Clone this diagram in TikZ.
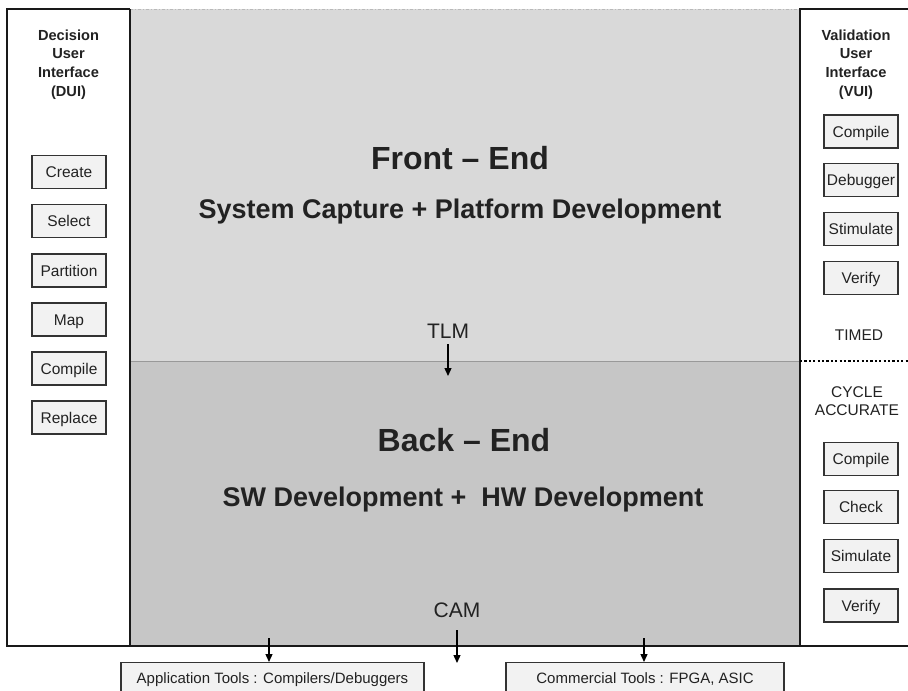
\documentclass[tikz,border=0pt]{standalone}
\usepackage{fontspec}
\setmainfont{Liberation Sans}
\usetikzlibrary{arrows.meta}

\definecolor{frontgray}{HTML}{D9D9D9}
\definecolor{backgray}{HTML}{C6C6C6}
\definecolor{btnfill}{HTML}{F2F2F2}
\definecolor{txt}{HTML}{222222}

\tikzset{
  frame/.style={draw=black!90, line width=1.3pt},
  btn/.style={draw=black!80, fill=btnfill, line width=1.2pt, minimum width=74pt,
    minimum height=33pt, inner sep=0pt, text height=12.6pt, text depth=1.4pt,
    text=txt, font=\fontsize{15.5}{18}\selectfont},
  toolbox/.style={draw=black!80, fill=btnfill, line width=1.2pt, minimum height=31pt,
    inner sep=0pt, text height=12.4pt, text depth=1.6pt, anchor=north,
    text=txt, font=\fontsize{15}{18}\selectfont},
  paneltitle/.style={align=center, inner sep=0pt, anchor=north, text=txt,
    font=\bfseries\fontsize{14.6}{18.7}\selectfont},
  sidelabel/.style={align=center, inner sep=0pt, text=txt,
    font=\fontsize{15.5}{18}\selectfont},
  bigtitle/.style={inner sep=0pt, anchor=base, text=txt,
    font=\bfseries\fontsize{32}{38}\selectfont},
  subtitle/.style={inner sep=0pt, anchor=base, text=txt,
    font=\bfseries\fontsize{27}{32}\selectfont},
  levellabel/.style={inner sep=0pt, anchor=base, text=txt,
    font=\fontsize{21}{25}\selectfont},
  arr/.style={-{Triangle[length=8pt,width=7pt]}, line width=1.3pt, black}
}

\begin{document}
\begin{tikzpicture}[x=1pt,y=-1pt]
			%%%%% START %%%%%
			\useasboundingbox[fill=white] (0,0) rectangle (908,691);

			% front end and back end
			\fill[frontgray] (130,9) rectangle (800,361);
			\fill[backgray] (130,361) rectangle (800,646);
			\draw[gray!80, line width=0.9pt] (130,361) -- (800,361);
			\draw[gray!55, line width=1pt, dash pattern=on 3pt off 2pt on 1pt off 2pt] (130,9) -- (800,9);

			% side panels
			\draw[frame] (130,9) -- (7,9) -- (7,646) -- (908,646);
			\draw[frame] (130,9) -- (130,646);
			\draw[frame] (800,646) -- (800,9) -- (908,9);
			\draw[black, line width=2.2pt, dash pattern=on 2.2pt off 2.2pt] (800,361) -- (908,361);

			\node[paneltitle] (dui) at (68.5,29.5) {Decision\\User\\Interface\\(DUI)};
			\node[paneltitle] (vui) at (856,29.5) {Validation\\User\\Interface\\(VUI)};

			\node[btn] (create) at (69,172) {Create};
			\node[btn] (select) at (69,221) {Select};
			\node[btn] (partition) at (69,270.5) {Partition};
			\node[btn] (map) at (69,319.5) {Map};
			\node[btn] (compileleft) at (69,368.5) {Compile};
			\node[btn] (replace) at (69,417.5) {Replace};

			\node[btn] (compiletimed) at (861,131.5) {Compile};
			\node[btn] (debugger) at (861,180) {Debugger};
			\node[btn] (stimulate) at (861,229) {Stimulate};
			\node[btn] (verifytimed) at (861,278) {Verify};
			\node[sidelabel] (timed) at (859,335) {TIMED};
			\node[sidelabel, anchor=north] (cycle) at (857,386) {CYCLE\\ACCURATE};
			\node[btn] (compilecycle) at (861,459) {Compile};
			\node[btn] (check) at (861,507) {Check};
			\node[btn] (simulate) at (861,556) {Simulate};
			\node[btn] (verifycycle) at (861,605.5) {Verify};

			% middle texts
			\node[bigtitle] (front) at (460,169.5) {Front -- End};
			\node[subtitle] (capture) at (460,218.5) {System Capture + Platform Development};
			\node[levellabel] (tlm) at (448,338) {TLM};
			\node[bigtitle] (back) at (464,451.5) {Back -- End};
			\node[subtitle] (swhw) at (463,506.5) {SW Development +\ \ HW Development};
			\node[levellabel] (cam) at (457,617) {CAM};

			% tools
			\node[toolbox, minimum width=303pt] (apptools) at (272.5,662) {Application Tools : Compilers/Debuggers};
			\node[toolbox, minimum width=278pt] (commtools) at (645,662) {Commercial Tools : FPGA, ASIC};

			\coordinate (tlmend) at (448,376);
			\coordinate (camend) at (457,663);
			\coordinate (appstart) at (269,638);
			\coordinate (commstart) at (644,638);

			\draw[arr, shorten <=6pt] (tlm.south) -- (tlmend);
			\draw[arr, shorten <=13pt] (cam.south) -- (camend);
			\draw[arr] (appstart) -- (appstart |- apptools.north);
			\draw[arr] (commstart) -- (commstart |- commtools.north);

			%%%%% END %%%%%
\end{tikzpicture}
\end{document}
